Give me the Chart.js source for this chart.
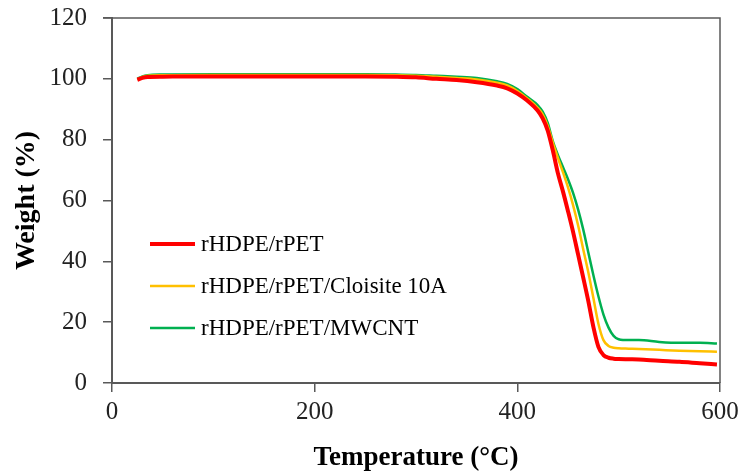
<!DOCTYPE html>
<html>
<head>
<meta charset="utf-8">
<script src="https://cdn.jsdelivr.net/npm/chart.js@4.4.1/dist/chart.umd.min.js"></script>
<style>
  html, body { margin: 0; padding: 0; background: #fff; }
  #wrap { width: 742px; height: 472px; position: relative; }
</style>
</head>
<body>
<div id="wrap"><canvas id="tga"></canvas></div>
<script>
'use strict';
// ── Data ──────────────────────────────────────────────────────────────────
const TEMPS = [25, 30, 35, 50, 100, 150, 200, 250, 280, 300, 320, 340, 360, 380, 390,
               400, 410, 420, 425, 430, 435, 440, 445, 450, 455, 460, 465, 470, 475, 480,
               485, 490, 495, 500, 510, 520, 540, 560, 580, 597];

const W_BLEND = [99.7, 100.3, 100.6, 100.7, 100.8, 100.8, 100.8, 100.8, 100.7, 100.5, 100.0, 99.6, 98.9, 97.8, 96.9,
                 95.2, 92.8, 89.6, 87.0, 83.0, 76.5, 69.0, 63.0, 56.5, 49.7, 42.2, 34.7, 27.0, 18.5, 11.9,
                 9.2, 8.3, 8.0, 7.9, 7.8, 7.7, 7.3, 7.0, 6.5, 6.1];

const W_CLOISITE = [99.8, 100.6, 101.0, 101.2, 101.3, 101.3, 101.3, 101.3, 101.2, 101.0, 100.7, 100.3, 99.8, 98.7, 97.8,
                    96.0, 93.5, 90.5, 88.3, 84.5, 79.0, 74.0, 69.3, 64.3, 58.5, 51.8, 44.0, 36.5, 28.0, 19.5,
                    14.1, 12.2, 11.6, 11.4, 11.3, 11.2, 10.9, 10.6, 10.4, 10.3];

const W_MWCNT = [100.0, 100.8, 101.2, 101.4, 101.5, 101.5, 101.5, 101.5, 101.4, 101.3, 101.0, 100.7, 100.3, 99.2, 98.3,
                 96.6, 94.0, 91.4, 89.2, 85.5, 79.5, 75.0, 71.0, 67.0, 62.5, 57.0, 50.5, 43.0, 35.5, 28.5,
                 22.5, 18.2, 15.5, 14.4, 14.1, 14.1, 13.5, 13.2, 13.2, 13.0];

const LABELS = ['rHDPE/rPET', 'rHDPE/rPET/Cloisite 10A', 'rHDPE/rPET/MWCNT'];

const RED    = '#ff0000';
const YELLOW = '#ffc000';
const GREEN  = '#00b050';
const AXIS   = '#595959';
const SERIF  = "'Liberation Serif', 'Times New Roman', serif";

const pts = ws => TEMPS.map((t, i) => ({ x: t, y: ws[i] }));

// ── Frame on top / right edge ─────────────────────────────────────────────
const framePlugin = {
    id: 'frame',
    afterDraw(chart) {
        const { ctx, chartArea: a } = chart;
        ctx.save();
        ctx.strokeStyle = AXIS;
        ctx.lineWidth = 1.5;
        ctx.beginPath();
        ctx.moveTo(a.left - 9, a.top);
        ctx.lineTo(a.right, a.top);
        ctx.lineTo(a.right, a.bottom);
        ctx.stroke();
        ctx.restore();
    }
};

// ── Legend drawn inside the plot area ─────────────────────────────────────
const insideLegend = {
    id: 'insideLegend',
    afterDatasetsDraw(chart) {
        const { ctx } = chart;
        const x0 = 150, x1 = 195, y0 = 244, dy = 42;
        ctx.save();
        ctx.font = "23px " + SERIF;
        ctx.textBaseline = 'middle';
        chart.data.datasets.forEach((ds, i) => {
            const y = y0 + i * dy;
            ctx.strokeStyle = ds.borderColor;
            ctx.lineWidth = ds.borderWidth;
            ctx.beginPath();
            ctx.moveTo(x0, y);
            ctx.lineTo(x1, y);
            ctx.stroke();
            ctx.fillStyle = '#000';
            ctx.fillText(ds.label, x1 + 6, y + 1);
        });
        ctx.restore();
    }
};

const line = (label, data, color, width) => ({
    label, data: pts(data), borderColor: color, borderWidth: width,
    pointRadius: 0, cubicInterpolationMode: 'monotone', fill: false
});

new Chart(document.getElementById('tga'), {
    type: 'line',
    data: { datasets: [
        line(LABELS[0], W_BLEND,    RED,    4),
        line(LABELS[1], W_CLOISITE, YELLOW, 2.5),
        line(LABELS[2], W_MWCNT,    GREEN,  2.5),
    ] },
    options: {
        animation: false,
        responsive: true,
        maintainAspectRatio: false,
        layout: { padding: { left: 0, top: 18, right: 22, bottom: 0 } },
        plugins: { legend: { display: false }, tooltip: { enabled: false } },
        scales: {
            x: {
                type: 'linear', min: 0, max: 600,
                afterFit: s => { s.height = 89; s.paddingLeft = 0; s.paddingRight = 0; },
                ticks: { stepSize: 200, color: '#222', padding: 5, font: { family: SERIF, size: 25 } },
                grid: { drawOnChartArea: false, drawTicks: true, tickLength: 9, color: AXIS, lineWidth: 1.5 },
                border: { display: true, color: AXIS, width: 2 },
                title: { display: true, text: 'Temperature (\u00B0C)', color: '#000',
                         font: { family: SERIF, size: 27, weight: 'bold', lineHeight: 1 },
                         padding: { top: 0, bottom: 0 } }
            },
            y: {
                min: 0, max: 120,
                afterFit: s => { s.width = 112; s.paddingTop = 0; s.paddingBottom = 0; },
                ticks: { stepSize: 20, color: '#222', padding: 16, font: { family: SERIF, size: 25 } },
                grid: { drawOnChartArea: false, drawTicks: true, tickLength: 9, color: AXIS, lineWidth: 1.5 },
                border: { display: true, color: AXIS, width: 2 },
                title: { display: true, text: 'Weight (%)', color: '#000',
                         font: { family: SERIF, size: 28, weight: 'bold', lineHeight: 1 },
                         padding: { top: 13, bottom: 0 } }
            }
        }
    },
    plugins: [framePlugin, insideLegend]
});
</script>
</body>
</html>
